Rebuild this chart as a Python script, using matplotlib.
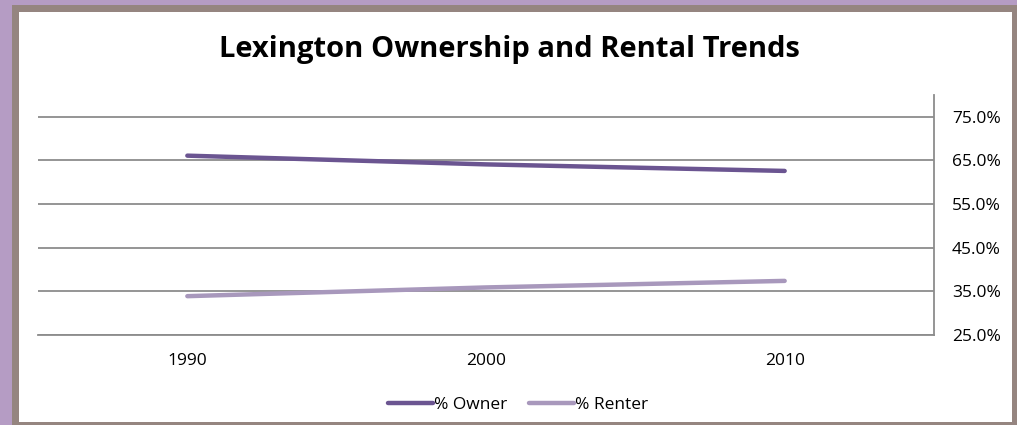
import matplotlib
matplotlib.use("Agg")
import matplotlib.pyplot as plt
from matplotlib.patches import Rectangle
from matplotlib.ticker import FuncFormatter

years = ["1990", "2000", "2010"]
owner_pct = [66.1, 64.1, 62.6]
renter_pct = [33.9, 35.9, 37.4]
y_ticks = [25, 35, 45, 55, 65, 75]

W, H = 1017, 425
plt.rcParams['font.family'] = ['Open Sans', 'DejaVu Sans']

fig = plt.figure(figsize=(W / 100, H / 100), dpi=100)
fig.patch.set_facecolor('#B59CC4')

def frect(x0, y0, x1, y1, color):
    # coordinates in pixels from top-left
    fig.patches.append(Rectangle((x0 / W, 1 - y1 / H), (x1 - x0) / W, (y1 - y0) / H,
                                 transform=fig.transFigure, facecolor=color,
                                 edgecolor='none', zorder=-10))

frect(12, 5, W + 5, H + 5, '#958580')
frect(19, 12, 1012, 422, 'white')

ax = fig.add_axes([38 / W, (H - 335) / H, (934 - 38) / W, (335 - 95) / H])
ax.set_facecolor('none')

x = list(range(len(years)))
ax.plot(x, owner_pct, color='#6B5591', lw=3.2, solid_capstyle='round', label='% Owner', zorder=3)
ax.plot(x, renter_pct, color='#A898BC', lw=3.2, solid_capstyle='round', label='% Renter', zorder=3)

ax.set_xlim(-0.5, len(years) - 0.5)
ax.set_ylim(25, 80)
ax.set_xticks(x)
ax.set_xticklabels(years)
ax.yaxis.tick_right()
ax.set_yticks(y_ticks)
ax.yaxis.set_major_formatter(FuncFormatter(lambda v, p: f"{v:.1f}%"))
ax.tick_params(axis='both', length=0, labelsize=12.5, colors='black')
ax.tick_params(axis='y', pad=13)
ax.tick_params(axis='x', pad=13)
ax.grid(axis='y', color='#8C8C8C', lw=1.3)
ax.set_axisbelow(True)
for s in ['left', 'top']:
    ax.spines[s].set_visible(False)
ax.spines['right'].set_color('#8C8C8C')
ax.spines['right'].set_linewidth(1.3)
ax.spines['bottom'].set_color('#8C8C8C')
ax.spines['bottom'].set_linewidth(1.3)

fig.text(509 / W, 1 - 50 / H, "Lexington Ownership and Rental Trends",
         ha='center', va='center', fontsize=21, fontweight='bold')

leg = fig.legend(loc='center', bbox_to_anchor=(518 / W, 1 - 405 / H), ncol=2,
                 frameon=False, fontsize=12.5, handlelength=2.6, handletextpad=0.05,
                 columnspacing=1.3)
for l in leg.get_lines():
    l.set_linewidth(3.2)

fig.savefig("out.png", dpi=100, facecolor=fig.get_facecolor())
